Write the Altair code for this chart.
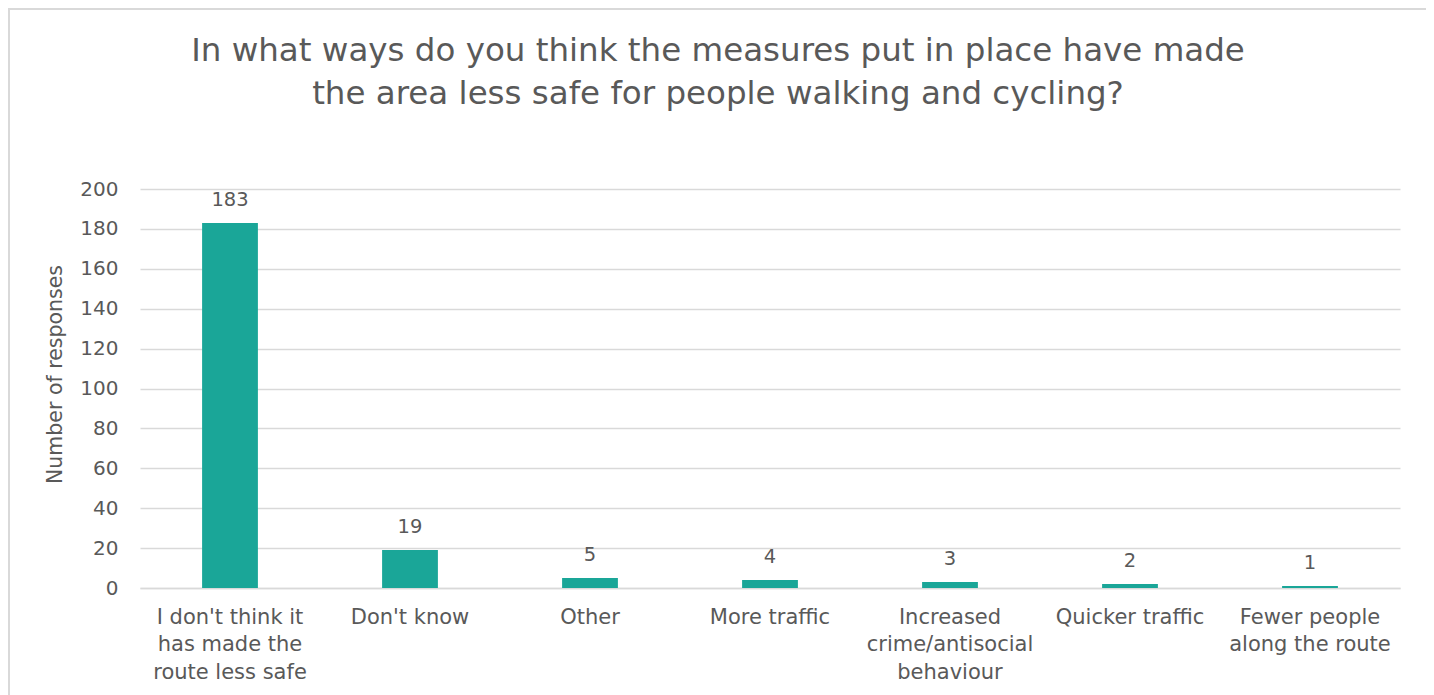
import altair as alt
import pandas as pd

categories = [
    "I don't think it|has made the|route less safe",
    "Don't know",
    "Other",
    "More traffic",
    "Increased|crime/antisocial|behaviour",
    "Quicker traffic",
    "Fewer people|along the route",
]
values = [183, 19, 5, 4, 3, 2, 1]
y_ticks = list(range(0, 201, 20))
title_lines = [
    "In what ways do you think the measures put in place have made",
    "the area less safe for people walking and cycling?",
]

FONT = "DejaVu Sans"
TEXT = "#595959"
GRID = "#D9D9D9"
BAR = "#1AA698"

df = pd.DataFrame({"category": categories, "value": values})

x_enc = alt.X(
    "category:N",
    sort=categories,
    scale=alt.Scale(paddingInner=0.69, paddingOuter=0.345),
    axis=alt.Axis(
        title=None,
        labelAngle=0,
        labelExpr="split(datum.label, '|')",
        labelFontSize=21,
        labelColor=TEXT,
        labelFont=FONT,
        labelLineHeight=27.5,
        labelPadding=18,
        ticks=False,
        domainColor=GRID,
        domainWidth=1.5,
        labelLimit=300,
    ),
)
y_enc = alt.Y(
    "value:Q",
    scale=alt.Scale(domain=[0, 200], nice=False),
    axis=alt.Axis(
        title="Number of responses",
        values=y_ticks,
        tickCount=20,
        labelOverlap=False,
        labelFontSize=20,
        labelColor=TEXT,
        labelFont=FONT,
        labelPadding=22,
        ticks=False,
        domain=False,
        gridColor=GRID,
        gridWidth=1.5,
        titleFontSize=20.5,
        titleFont=FONT,
        titleColor=TEXT,
        titleFontWeight="normal",
        titleAngle=270,
        titleX=-85,
        titleY=185,
        titleBaseline="middle",
        titleAlign="center",
    ),
)

base = alt.Chart(df).encode(x=x_enc, y=y_enc)
bars = base.mark_bar(color=BAR)
labels = base.mark_text(
    fontSize=19.5, font=FONT, color=TEXT, baseline="alphabetic", dy=-17
).encode(text="value:Q")

title = alt.Chart(pd.DataFrame({"t": [title_lines]})).mark_text(
    fontSize=32.5, font=FONT, color=TEXT, baseline="alphabetic", align="center", lineHeight=43
).encode(x=alt.value(578), y=alt.value(-128), text="t")

border = alt.Chart(alt.Data(values=[{}])).mark_rect(
    fill=None, stroke=GRID, strokeWidth=2
).encode(x=alt.value(-131), x2=alt.value(1289), y=alt.value(-180), y2=alt.value(520))

chart = (
    alt.layer(border, bars, labels, title)
    .properties(
        width=1260,
        height=399,
        padding={"left": 132, "top": 181, "right": 26, "bottom": 110},
        autosize=alt.AutoSizeParams(type="none"),
        background="white",
    )
    .configure_view(stroke=None)
)

chart.save("out.html", embed_options={"renderer": "svg", "actions": False})
